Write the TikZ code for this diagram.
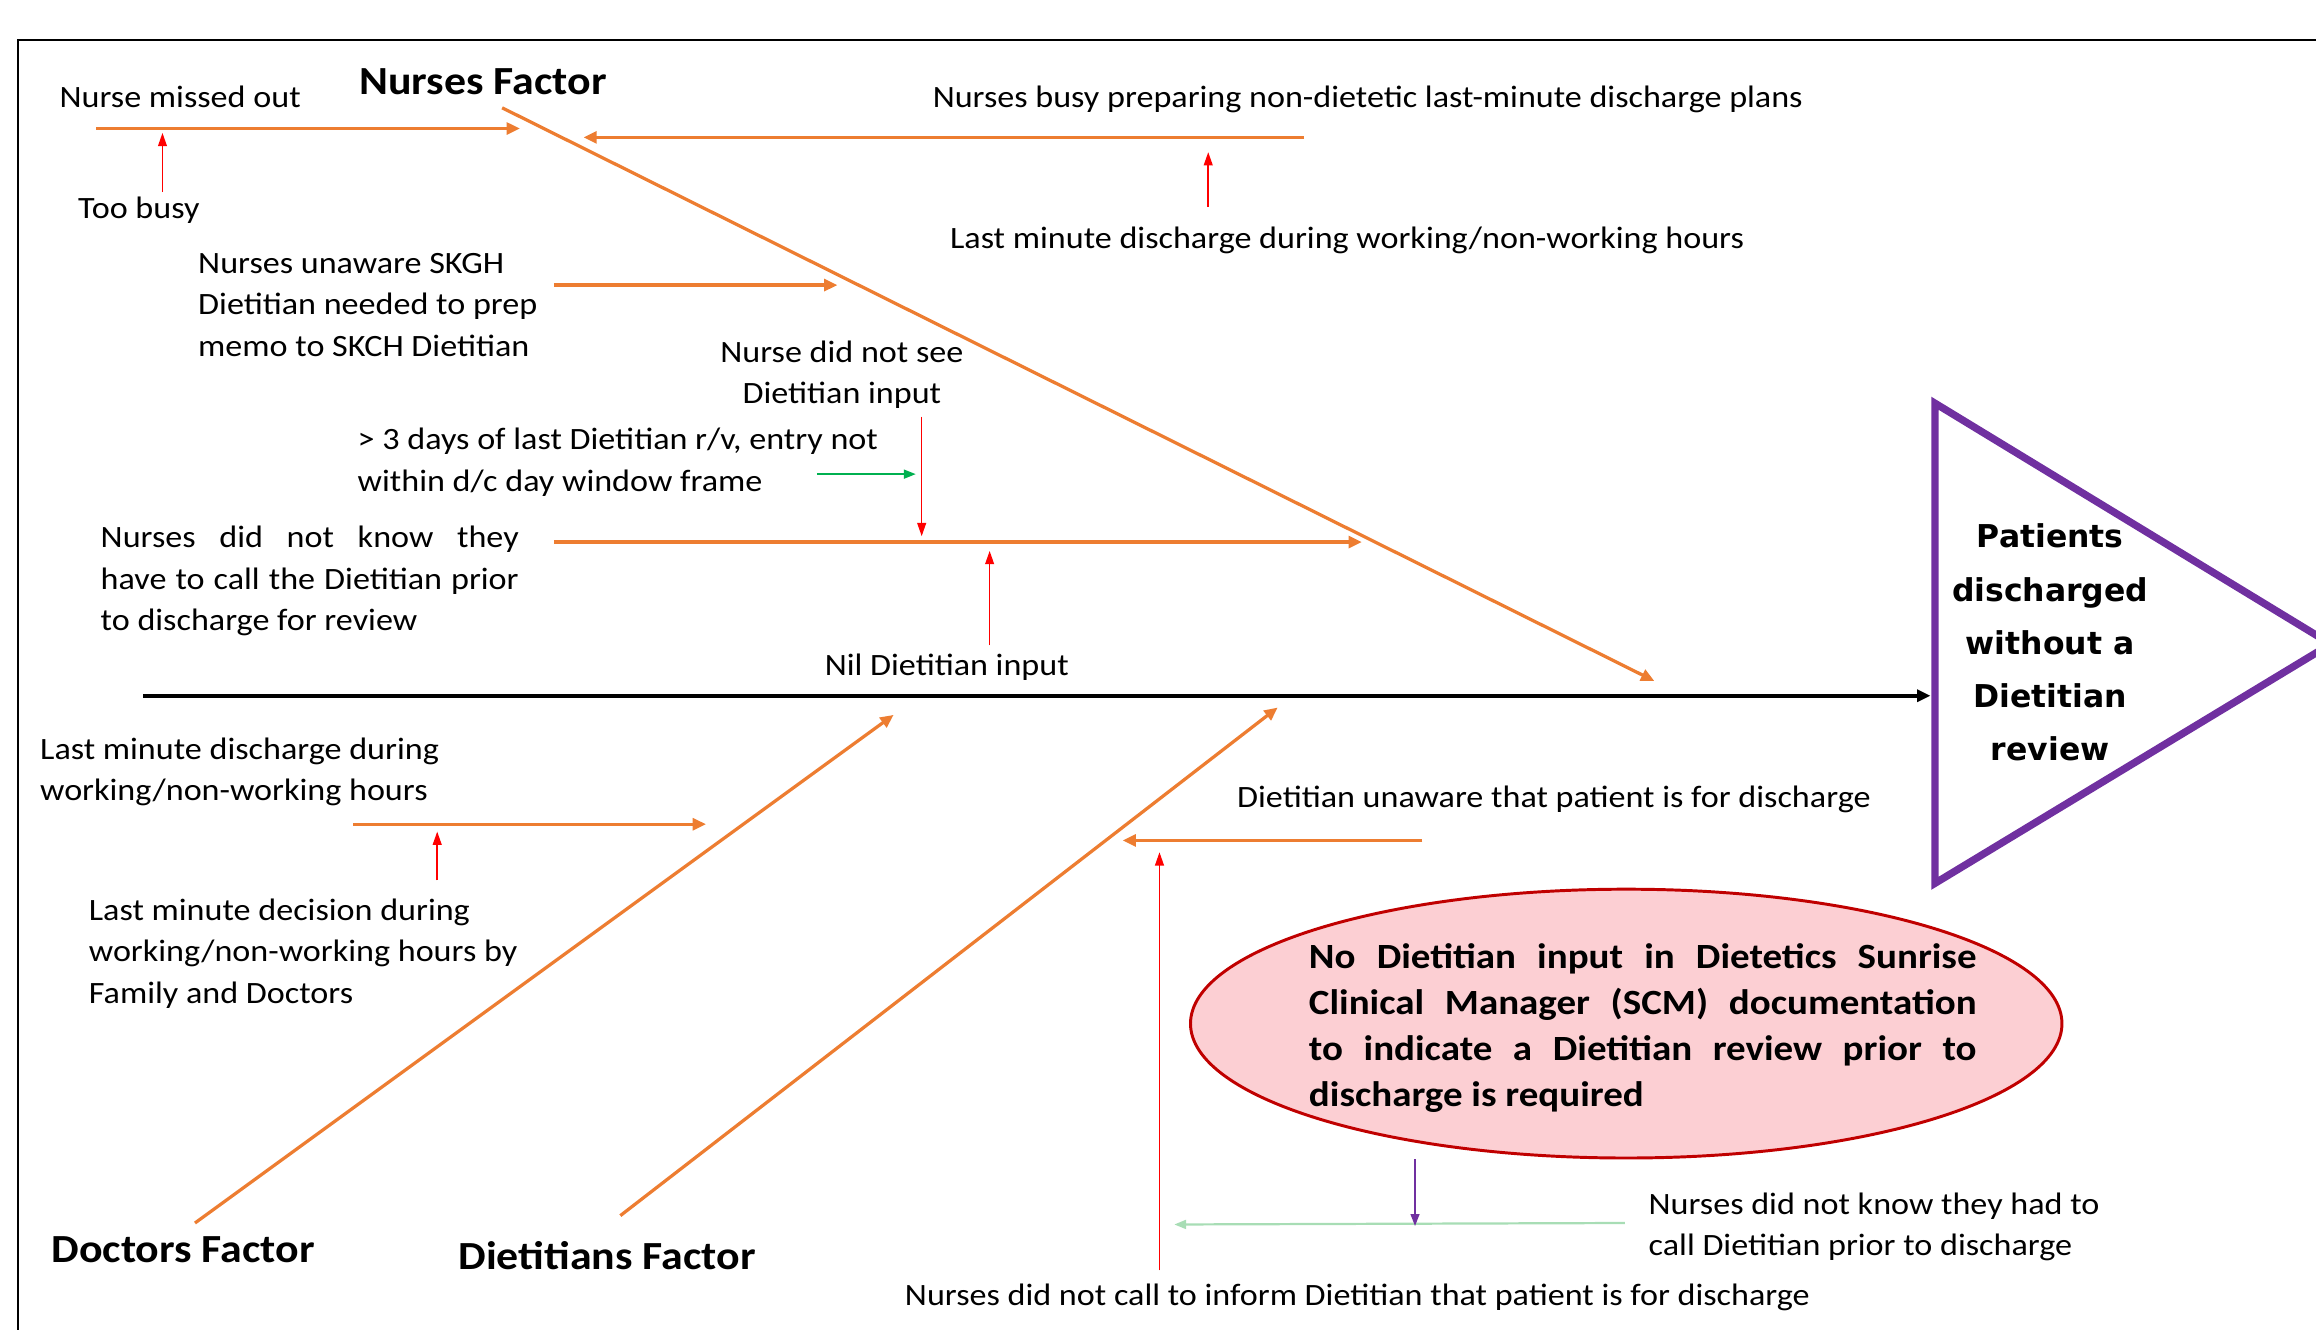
\documentclass[tikz,border=0pt]{standalone}
\usepackage{fontspec}
\setmainfont{Carlito}[FakeStretch=1.1]
\newfontfamily\trifont{DejaVu Sans}
\usetikzlibrary{arrows.meta,shapes.geometric}
\definecolor{orng}{HTML}{ED7D31}
\definecolor{prp}{HTML}{7030A0}
\definecolor{grn}{HTML}{00B050}
\definecolor{lgrn}{HTML}{A8DDB5}
\definecolor{pinkfill}{HTML}{FCCFD3}
\definecolor{dred}{HTML}{C00000}
\begin{document}
\begin{tikzpicture}[x=1pt,y=-1pt,
  lbl/.style={inner sep=0pt, yshift=-1.5pt, font=\fontsize{21}{28}\selectfont, align=left},
  factor/.style={inner sep=0pt, font=\fontsize{27}{30}\selectfont\bfseries},
  bone/.style={draw=orng, line width=2.2pt, -{Triangle[length=9pt,width=8pt]}},
  rib/.style={draw=orng, line width=2.2pt, -{Triangle[length=9pt,width=8pt]}},
  redarr/.style={draw=red, line width=1pt, -{Triangle[length=9pt,width=6pt]}},
  grnarr/.style={draw=grn, line width=1.2pt, -{Triangle[length=8pt,width=6pt]}},
  lgrnarr/.style={draw=lgrn, line width=1.5pt, -{Triangle[length=8pt,width=6pt]}},
  prparr/.style={draw=prp, line width=1pt, -{Triangle[length=8pt,width=6pt]}},
  spine/.style={draw=black, line width=2.5pt, -{Triangle[length=9pt,width=8pt]}}]
\useasboundingbox (0,0) rectangle (1568,900);
% frame
\coordinate (fr0) at (12,905);
\coordinate (fr1) at (12,27);
\coordinate (fr2) at (1575,27);
\draw[line width=1.5pt] (fr0) -- (fr1) -- (fr2);

% effect triangle
\coordinate (t1) at (1310,273);
\coordinate (t2) at (1578,436);
\coordinate (t3) at (1310,598);
\draw[prp, line width=5pt, line join=miter] (t1) -- (t2) -- (t3) -- cycle;
\node[inner sep=0pt, font=\trifont\fontsize{21.3}{36}\selectfont\bfseries, align=center] (tri) at (1388,435)
  {Patients\\discharged\\without a\\Dietitian\\review};

% texts
\node[factor] (nf) at (327,55) {Nurses Factor};
\node[lbl] (nmo) at (122,64) {Nurse missed out};
\node[lbl] (tb) at (94,141) {Too busy};
\node[lbl] (nbp) at (926,66) {Nurses busy preparing non-dietetic last-minute discharge plans};
\node[lbl] (lmd1) at (912,161) {Last minute discharge during working/non-working hours};
\node[lbl, anchor=west] (nus) at (134,205) {Nurses unaware SKGH\\Dietitian needed to prep\\memo to SKCH Dietitian};
\node[lbl, align=center] (ndns) at (570,252) {Nurse did not see\\Dietitian input};
\node[lbl, anchor=west] (thr) at (242,311.5) {> 3 days of last Dietitian r/v, entry not\\within d/c day window frame};
\node[lbl, anchor=west] (ndk) at (68,392) {\makebox[283pt][s]{Nurses did not know they}\\\makebox[283pt][s]{have to call the Dietitian prior}\\to discharge for review};
\node[lbl] (nil) at (641,450) {Nil Dietitian input};
\node[lbl, anchor=west] (lmd2) at (27,521) {Last minute discharge during\\working/non-working hours};
\node[lbl, anchor=west] (lmdec) at (60,644) {Last minute decision during\\working/non-working hours by\\Family and Doctors};
\node[factor] (df) at (124,846) {Doctors Factor};
\node[factor] (dtf) at (411,850) {Dietitians Factor};
\node[lbl] (dua) at (1052,540) {Dietitian unaware that patient is for discharge};
\node[lbl, anchor=west] (ndkh) at (1116,829) {Nurses did not know they had to\\call Dietitian prior to discharge};
\node[lbl] (ndc) at (919,877) {Nurses did not call to inform Dietitian that patient is for discharge};

% root cause ellipse
\node[ellipse, draw=dred, fill=pinkfill, line width=2pt, minimum width=590pt, minimum height=182pt, inner sep=0pt] (scm) at (1101,693) {};
\node[inner sep=0pt, font=\fontsize{24}{31}\selectfont\bfseries, align=left, anchor=west] (scmt) at (886,696)
  {\makebox[452pt][s]{No Dietitian input in Dietetics Sunrise}\\
   \makebox[452pt][s]{Clinical Manager (SCM) documentation}\\
   \makebox[452pt][s]{to indicate a Dietitian review prior to}\\
   discharge is required};

% coordinates for connectors
\coordinate (nb0) at (340,73);   \coordinate (nb1) at (1120,461);
\coordinate (r1a) at (65,87);    \coordinate (r1b) at (352,87);
\coordinate (q1a) at (110,130);  \coordinate (q1b) at (110,90);
\coordinate (r2a) at (883,93);   \coordinate (r2b) at (395,93);
\coordinate (q2a) at (818,140);  \coordinate (q2b) at (818,103);
\coordinate (r3a) at (375,193);  \coordinate (r3b) at (567,193);
\coordinate (q3a) at (624,282);  \coordinate (q3b) at (624,363);
\coordinate (g1a) at (553,321);  \coordinate (g1b) at (620,321);
\coordinate (r4a) at (375,367);  \coordinate (r4b) at (922,367);
\coordinate (q4a) at (670,437);  \coordinate (q4b) at (670,373);
\coordinate (sp0) at (97,471);   \coordinate (sp1) at (1307,471);
\coordinate (r5a) at (239,558);  \coordinate (r5b) at (478,558);
\coordinate (q5a) at (296,596);  \coordinate (q5b) at (296,563);
\coordinate (db0) at (132,828);  \coordinate (db1) at (605,484);
\coordinate (tb0) at (420,823);  \coordinate (tb1) at (865,479);
\coordinate (r6a) at (963,569);  \coordinate (r6b) at (760,569);
\coordinate (q6a) at (785,860);  \coordinate (q6b) at (785,577);
\coordinate (p1a) at (958,785);  \coordinate (p1b) at (958,830);
\coordinate (l1a) at (1100,828); \coordinate (l1b) at (795,829);

\draw[spine] (sp0) -- (sp1);
\draw[bone] (nb0) -- (nb1);
\draw[bone] (db0) -- (db1);
\draw[bone] (tb0) -- (tb1);
\draw[rib] (r1a) -- (r1b);
\draw[rib] (r2a) -- (r2b);
\draw[rib] (r3a) -- (r3b);
\draw[rib] (r4a) -- (r4b);
\draw[rib] (r5a) -- (r5b);
\draw[rib] (r6a) -- (r6b);
\draw[redarr] (q1a) -- (q1b);
\draw[redarr] (q2a) -- (q2b);
\draw[redarr] (q3a) -- (q3b);
\draw[redarr] (q4a) -- (q4b);
\draw[redarr] (q5a) -- (q5b);
\draw[redarr] (q6a) -- (q6b);
\draw[grnarr] (g1a) -- (g1b);
\draw[lgrnarr] (l1a) -- (l1b);
\draw[prparr] (p1a) -- (p1b);
\end{tikzpicture}
\end{document}
